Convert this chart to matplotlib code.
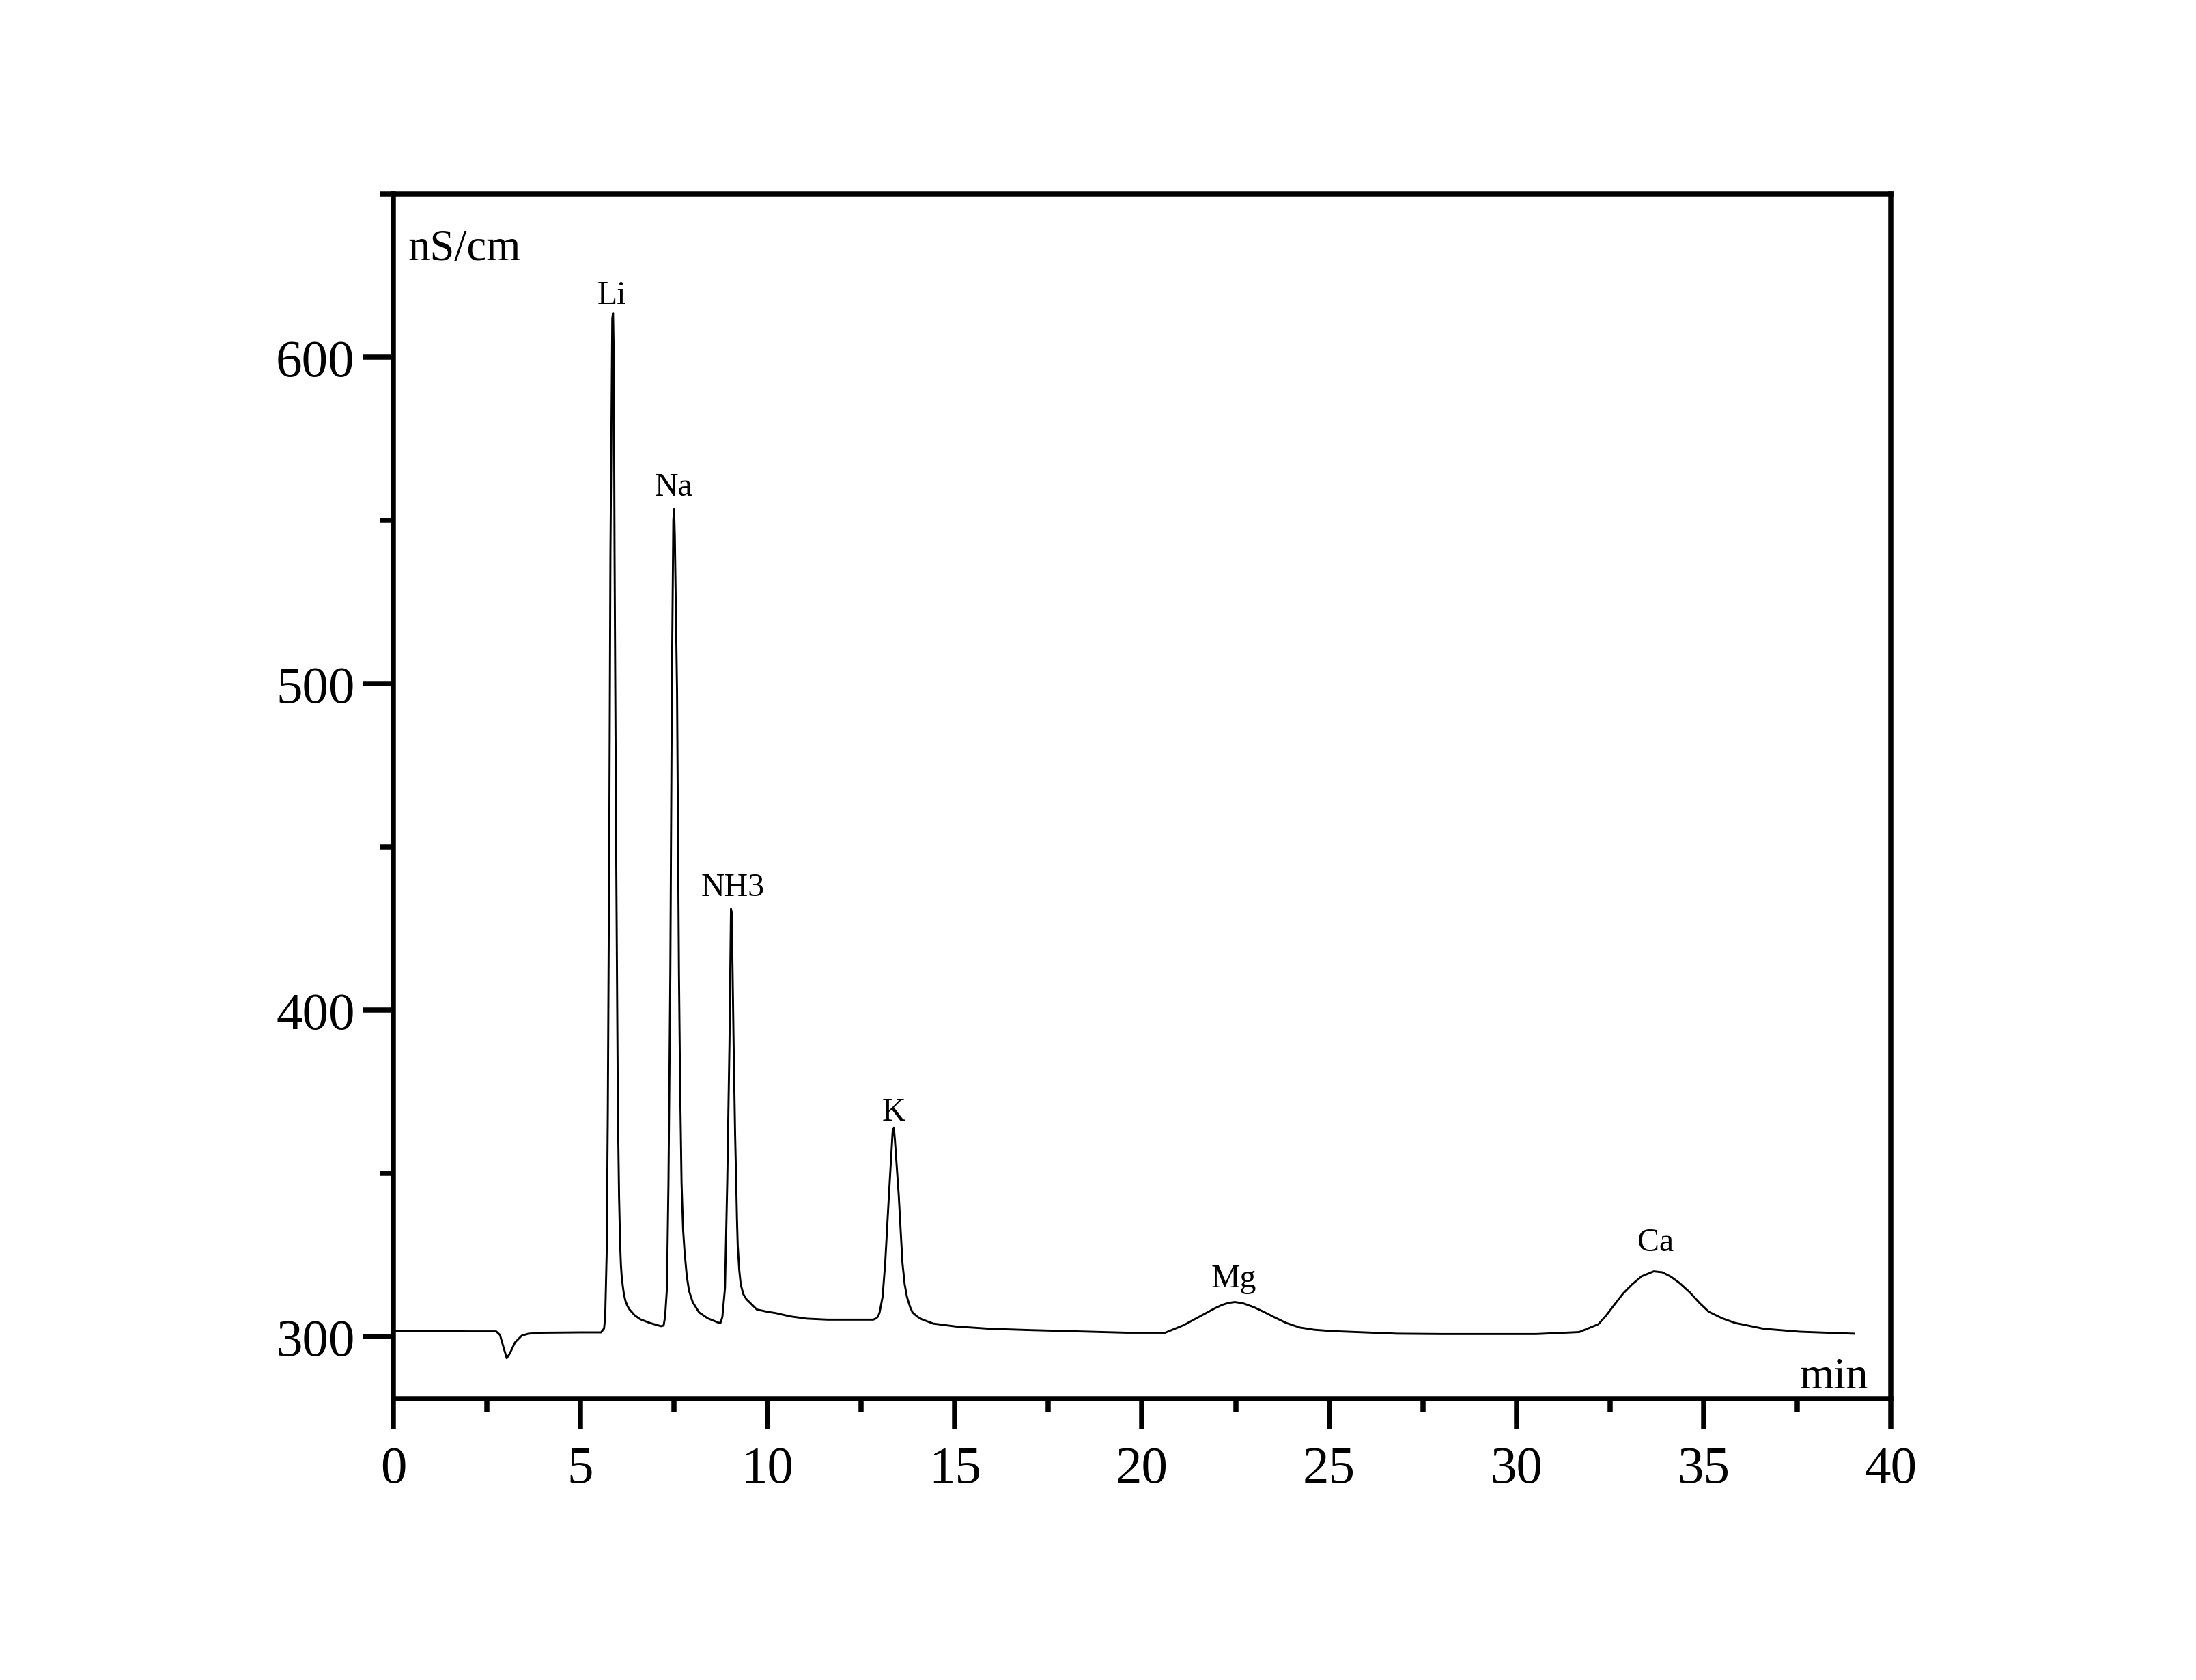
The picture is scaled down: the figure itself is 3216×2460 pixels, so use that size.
import matplotlib
matplotlib.use("Agg")
import matplotlib.pyplot as plt
from matplotlib.ticker import MultipleLocator

# Retention time (min) and conductivity (nS/cm)
time_min = [
    0.0, 1.0, 2.0, 2.75, 2.85, 2.95, 3.03, 3.12, 3.25, 3.43, 3.61, 4.0, 5.0, 5.55,
    5.63, 5.66, 5.70, 5.73, 5.77, 5.80, 5.85, 5.87, 5.89, 5.91, 5.95, 6.00, 6.03, 6.06,
    6.08, 6.10, 6.13, 6.16, 6.20, 6.25, 6.31, 6.45, 6.60, 6.85, 7.15, 7.22,
    7.26, 7.31, 7.35, 7.40, 7.44, 7.48, 7.50, 7.52, 7.58, 7.63, 7.66, 7.70, 7.74, 7.78,
    7.84, 7.90, 8.00, 8.17, 8.40, 8.68, 8.74,
    8.79, 8.86, 8.92, 8.98, 9.02, 9.04, 9.09, 9.13, 9.16, 9.18, 9.20, 9.24, 9.28, 9.35,
    9.43, 9.71, 10.0, 10.22, 10.6, 11.05, 11.6, 12.0, 12.82, 12.90,
    12.95, 12.99, 13.07, 13.14, 13.24, 13.34, 13.37, 13.40, 13.50, 13.60, 13.66, 13.72,
    13.80, 13.87, 14.0, 14.12, 14.42, 15.03, 15.94, 17.0, 18.0, 19.59,
    20.62, 21.11, 21.4, 21.72, 21.95, 22.14, 22.3, 22.48, 22.7, 22.99, 23.25, 23.54,
    23.85, 24.21, 24.6, 25.06, 26.83, 28.0, 29.5, 30.53,
    31.68, 32.19, 32.4, 32.64, 32.85, 33.09, 33.35, 33.67, 33.9, 34.12, 34.35, 34.63,
    34.9, 35.14, 35.5, 35.84, 36.61, 37.57, 39.02,
]
signal_nS = [
    301.7, 301.7, 301.6, 301.6, 300.5, 296.5, 293.4, 295.0, 298.2, 300.3, 300.9, 301.2, 301.3, 301.3,
    302.5, 306.0, 325.6, 368.5, 454.3, 540.2, 612.0, 613.5, 600.0, 540.2, 454.3, 368.5, 343.0, 328.0,
    322.0, 318.5, 315.5, 313.0, 311.0, 309.5, 308.3, 306.5, 305.3, 304.2, 303.2, 303.4,
    306.0, 314.9, 347.0, 411.4, 497.3, 550.0, 553.5, 545.0, 497.3, 411.4, 378.0, 347.0, 333.0, 326.0,
    318.5, 314.0, 310.5, 307.4, 305.6, 304.3, 304.2,
    306.0, 314.9, 347.1, 390.0, 431.0, 430.0, 390.0, 362.0, 347.1, 336.0, 328.0, 320.5, 316.0, 313.0,
    311.5, 308.3, 307.6, 307.2, 306.2, 305.5, 305.2, 305.2, 305.2, 305.6,
    306.2, 307.4, 312.2, 322.6, 343.5, 363.0, 364.0, 360.0, 343.5, 322.6, 316.0, 312.2,
    309.2, 307.4, 306.1, 305.3, 304.0, 303.1, 302.4, 302.0, 301.7, 301.2,
    301.2, 303.5, 305.3, 307.3, 308.7, 309.7, 310.3, 310.6, 310.2, 309.0, 307.6, 305.9,
    304.2, 302.8, 302.1, 301.7, 300.9, 300.8, 300.8, 300.8,
    301.4, 303.8, 306.5, 310.1, 313.2, 316.0, 318.5, 320.0, 319.7, 318.4, 316.5, 313.6,
    310.2, 307.6, 305.6, 304.2, 302.4, 301.5, 300.9,
]

peak_names = ["Li", "Na", "NH3", "K", "Mg", "Ca"]
peak_label_x = [5.84, 7.48, 9.06, 13.36, 22.45, 33.71]
peak_label_y = [616.5, 557.8, 435.1, 366.4, 315.3, 326.5]

x_ticks = [0, 5, 10, 15, 20, 25, 30, 35, 40]
y_ticks = [300, 400, 500, 600]

plt.rcParams["font.family"] = ["Liberation Serif", "DejaVu Serif"]

fig = plt.figure(figsize=(10.72, 8.2033), dpi=300)
ax = fig.add_axes([0.1791, 0.1674, 0.6819, 0.7168])

ax.plot(time_min, signal_nS, color="black", linewidth=0.7)

ax.set_xlim(0, 40)
ax.set_ylim(281, 650)
ax.set_xticks(x_ticks)
ax.set_yticks(y_ticks)
ax.xaxis.set_minor_locator(MultipleLocator(2.5))
ax.yaxis.set_minor_locator(MultipleLocator(50))

for s in ax.spines.values():
    s.set_linewidth(1.8)

ax.tick_params(which="both", direction="out", width=1.8, top=False, right=False)
ax.tick_params(which="major", length=10.5, labelsize=18.5)
ax.tick_params(which="minor", length=4.5)
ax.tick_params(axis="x", which="major", pad=6)
ax.tick_params(axis="y", which="major", pad=3)

ax.text(0.0096, 0.9453, "nS/cm", transform=ax.transAxes, ha="left",
        va="baseline", fontsize=15.5)
ax.text(0.985, 0.009, "min", transform=ax.transAxes, ha="right",
        va="baseline", fontsize=15.5)

for name, px, py in zip(peak_names, peak_label_x, peak_label_y):
    ax.text(px, py, name, ha="center", va="baseline", fontsize=11.5)

fig.savefig("out.png", dpi=300)
